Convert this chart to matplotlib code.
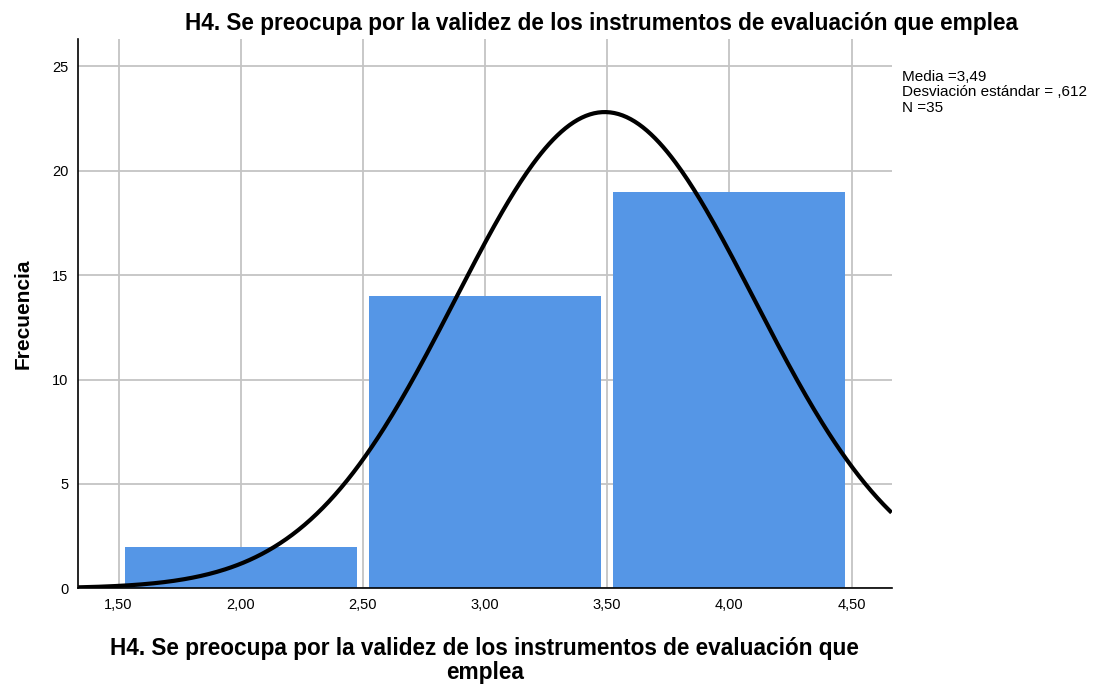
import numpy as np
import matplotlib.pyplot as plt

# Frecuencias por intervalo (centros de clase)
centros = [2.0, 3.0, 4.0]
frecuencias = [2, 14, 19]
ancho_barra = 0.95

# Estadísticos de la curva normal
media = 3.49
desv = 0.612
n = 35
ancho_clase = 1.0

xticks = [1.5, 2.0, 2.5, 3.0, 3.5, 4.0, 4.5]
xtick_labels = ['1,50', '2,00', '2,50', '3,00', '3,50', '4,00', '4,50']
yticks = [0, 5, 10, 15, 20, 25]

plt.rcParams['font.family'] = ['Liberation Sans', 'DejaVu Sans']

fig = plt.figure(figsize=(10.96, 6.84), dpi=100)
ax = fig.add_axes([0.0714, 0.1399, 0.7421, 0.8026])

# Histograma
ax.bar(centros, frecuencias, width=ancho_barra, color='#5596e6', zorder=2)

# Curva normal escalada a frecuencias
xmin, xmax = 1.335, 4.664
xs = np.linspace(xmin, xmax, 400)
ys = n * ancho_clase / (desv * np.sqrt(2 * np.pi)) * np.exp(-0.5 * ((xs - media) / desv) ** 2)
ax.plot(xs, ys, color='black', linewidth=3, zorder=3, solid_capstyle='butt')

ax.set_xlim(xmin, xmax)
ax.set_ylim(0, 26.3)
ax.set_xticks(xticks)
ax.set_xticklabels(xtick_labels)
ax.set_yticks(yticks)
ax.tick_params(axis='both', length=0, pad=7, labelsize=10.5)

ax.grid(True, color='#c4c4c4', linewidth=1.3, zorder=0)
ax.set_axisbelow(True)
for lado in ['top', 'right']:
    ax.spines[lado].set_visible(False)
for lado in ['left', 'bottom']:
    ax.spines[lado].set_linewidth(1.2)
    ax.spines[lado].set_zorder(4)

ax.set_title('H4. Se preocupa por la validez de los instrumentos de evaluación que emplea',
             fontsize=16.3, fontweight='bold', x=0.643, pad=7)
ax.set_xlabel('H4. Se preocupa por la validez de los instrumentos de evaluación que\nemplea',
              fontsize=16.3, fontweight='bold', labelpad=18, linespacing=1.05)
ax.set_ylabel('Frecuencia', fontsize=15, fontweight='bold', labelpad=14)

# Recuadro de estadísticos
fig.text(0.823, 0.898, 'Media =3,49\nDesviación estándar = ,612\nN =35',
         fontsize=11, va='top', ha='left', linespacing=1.15)

fig.savefig('out.png', dpi=100)
